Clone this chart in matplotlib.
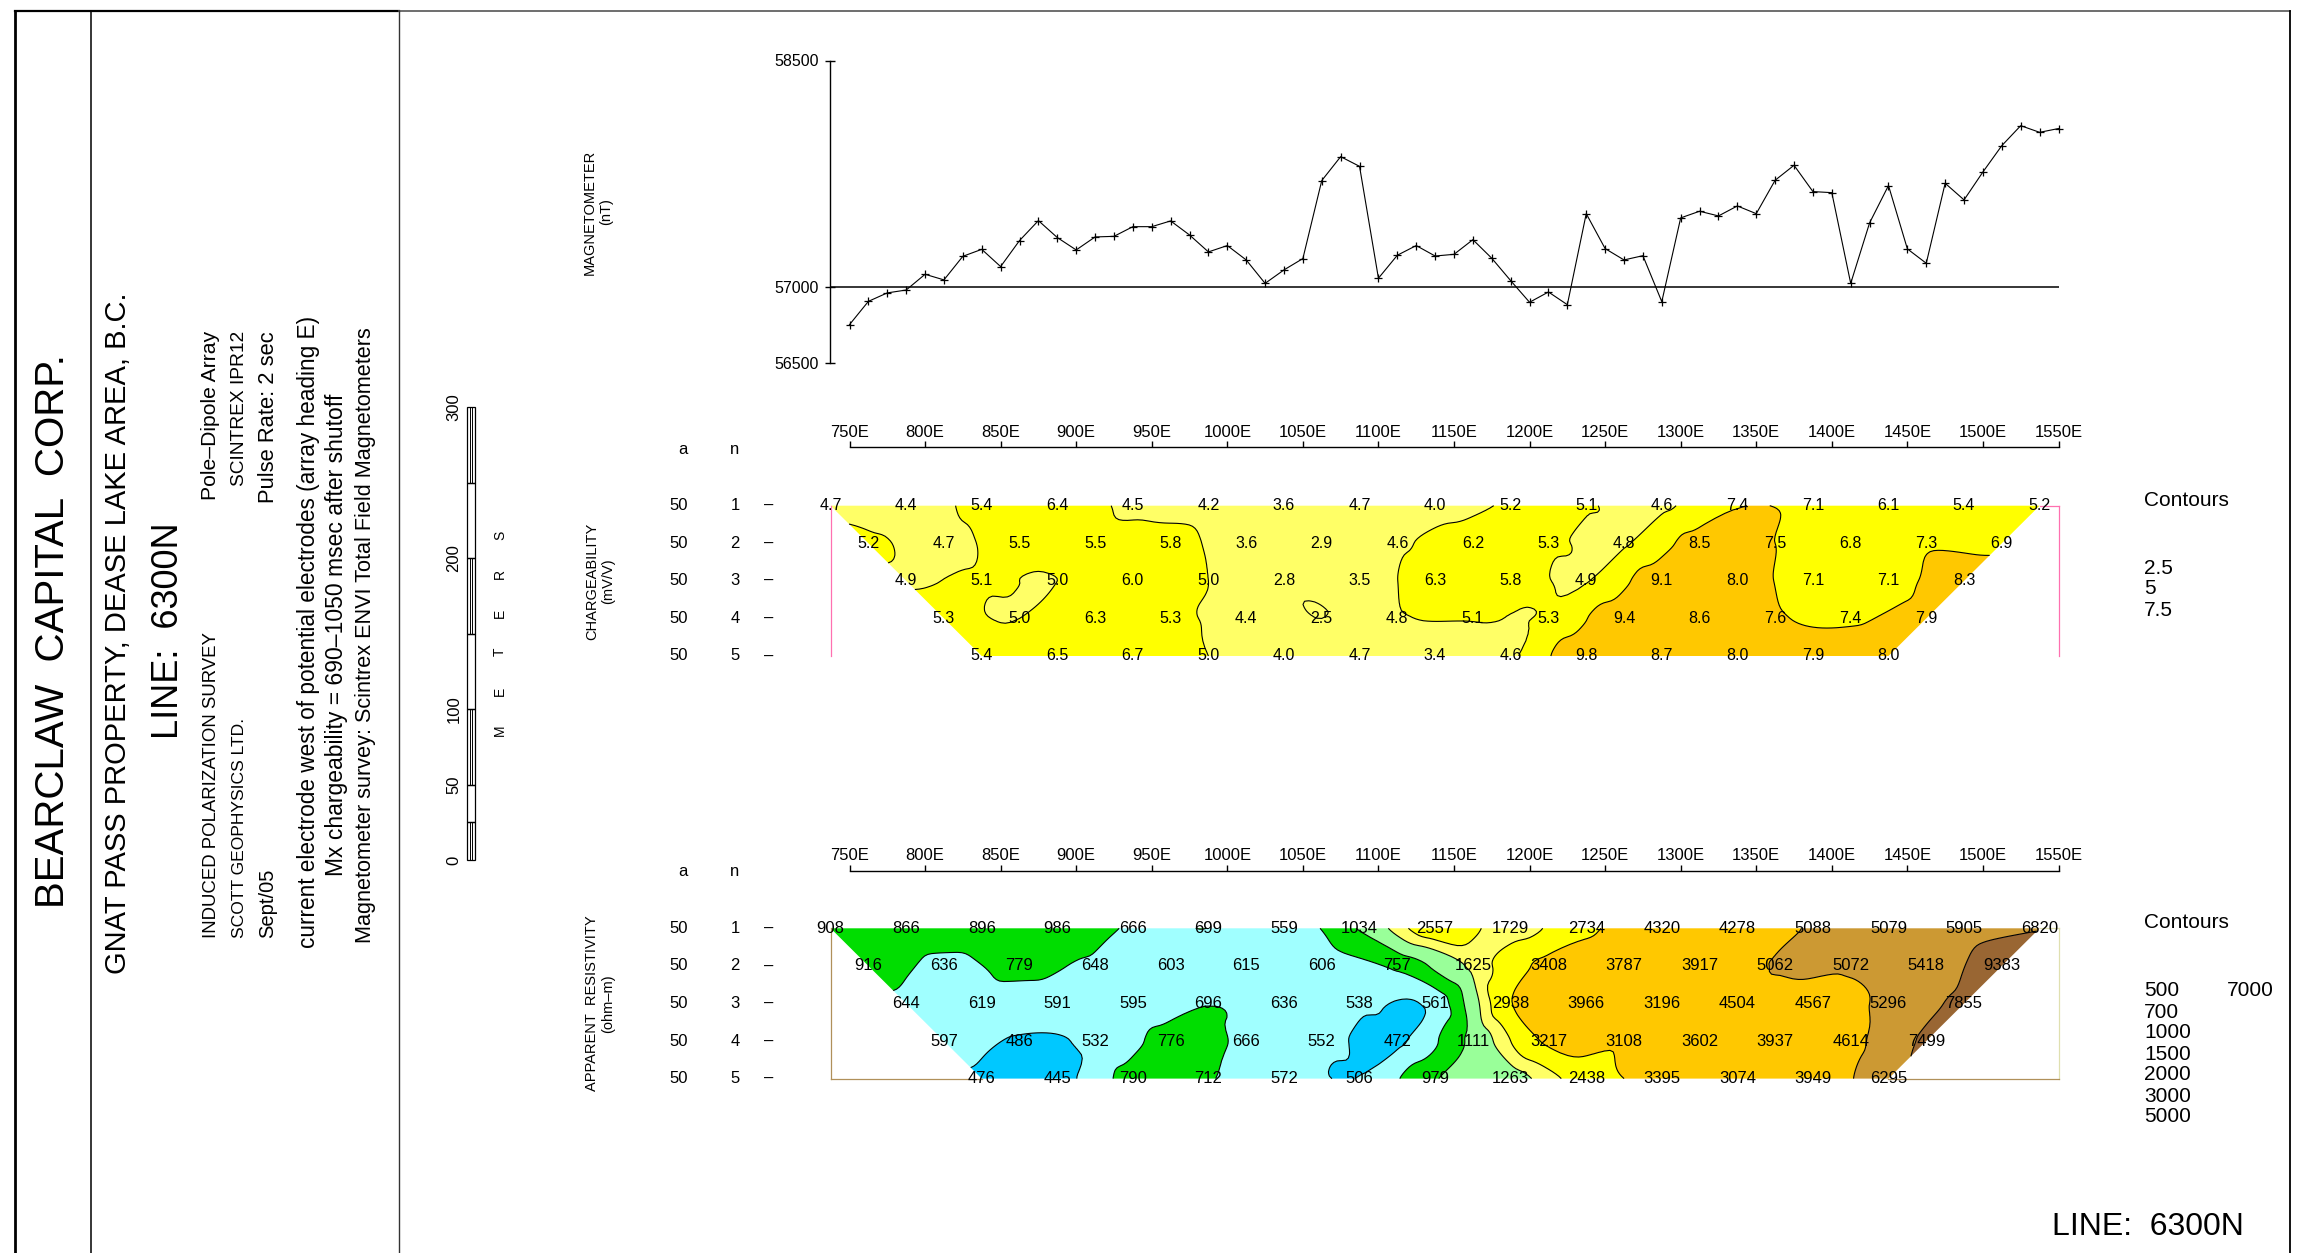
import numpy as np
import matplotlib
matplotlib.use('Agg')
import matplotlib.pyplot as plt
import matplotlib.tri as mtri
from matplotlib.patches import Rectangle
from matplotlib.transforms import blended_transform_factory

plt.rcParams['font.family'] = ['Liberation Sans', 'DejaVu Sans']

# ------------------------------------------------------------------ data
MAG_STATIONS = np.arange(750, 1550.1, 12.5)
MAG_NT = [56753, 56907, 56963, 56982, 57086, 57049, 57205, 57251, 57137, 57309,
          57441, 57329, 57247, 57333, 57337, 57401, 57401, 57439, 57346, 57234,
          57276, 57181, 57026, 57115, 57190, 57706, 57864, 57800, 57060, 57212,
          57276, 57207, 57218, 57315, 57192, 57044, 56901, 56969, 56885, 57487,
          57256, 57181, 57209, 56905, 57459, 57503, 57472, 57538, 57487, 57708,
          57807, 57633, 57626, 57026, 57426, 57673, 57254, 57159, 57688, 57578,
          57763, 57937, 58069, 58025, 58050]
MAG_TICKS = [56500, 57000, 58500]

# first plotted station of each n level (pole-dipole, a = 50 m), station spacing 50 m
N_LEVELS = [1, 2, 3, 4, 5]
A_SPACING = [50, 50, 50, 50, 50]
FIRST_STATION = [737.5, 762.5, 787.5, 812.5, 837.5]
STATION_STEP = 50
LINE_TICKS = list(range(750, 1551, 50))

CHG_N1 = [4.7, 4.4, 5.4, 6.4, 4.5, 4.2, 3.6, 4.7, 4.0, 5.2, 5.1, 4.6, 7.4, 7.1, 6.1, 5.4, 5.2]
CHG_N2 = [5.2, 4.7, 5.5, 5.5, 5.8, 3.6, 2.9, 4.6, 6.2, 5.3, 4.8, 8.5, 7.5, 6.8, 7.3, 6.9]
CHG_N3 = [4.9, 5.1, 5.0, 6.0, 5.0, 2.8, 3.5, 6.3, 5.8, 4.9, 9.1, 8.0, 7.1, 7.1, 8.3]
CHG_N4 = [5.3, 5.0, 6.3, 5.3, 4.4, 2.5, 4.8, 5.1, 5.3, 9.4, 8.6, 7.6, 7.4, 7.9]
CHG_N5 = [5.4, 6.5, 6.7, 5.0, 4.0, 4.7, 3.4, 4.6, 9.8, 8.7, 8.0, 7.9, 8.0]
CHG_CONTOURS = [2.5, 5, 7.5]

RES_N1 = [908, 866, 896, 986, 666, 699, 559, 1034, 2557, 1729, 2734, 4320, 4278, 5088, 5079, 5905, 6820]
RES_N2 = [916, 636, 779, 648, 603, 615, 606, 757, 1625, 3408, 3787, 3917, 5062, 5072, 5418, 9383]
RES_N3 = [644, 619, 591, 595, 696, 636, 538, 561, 2938, 3966, 3196, 4504, 4567, 5296, 7855]
RES_N4 = [597, 486, 532, 776, 666, 552, 472, 1111, 3217, 3108, 3602, 3937, 4614, 7499]
RES_N5 = [476, 445, 790, 712, 572, 506, 979, 1263, 2438, 3395, 3074, 3949, 6295]
RES_CONTOURS = [500, 700, 1000, 1500, 2000, 3000, 5000, 7000]

CHG_COLORS = ['#ffff66', '#ffff66', '#ffff00', '#ffc800']
RES_COLORS = ['#00c8ff', '#a0ffff', '#00dd00', '#99ff99', '#ffff66',
              '#ffff00', '#ffc800', '#cc9933', '#996633']

# ------------------------------------------------------------------ layout
W, H = 2310, 1253
PX_PER_M = 1.51125      # horizontal pixels per metre
X750_PX = 849.5         # pixel column of 750E
DEPTH_PX = 1.503        # vertical pixels per metre of pseudo-depth

fig = plt.figure(figsize=(W / 100, H / 100), dpi=100)


def px_axes(x0, y0, x1, y1):
    return fig.add_axes([x0 / W, 1 - y1 / H, (x1 - x0) / W, (y1 - y0) / H])


def e_px(e):
    return X750_PX + (e - 750) * PX_PER_M


ov = fig.add_axes([0, 0, 1, 1])
ov.set_xlim(0, W)
ov.set_ylim(H, 0)
ov.axis('off')
ov.patch.set_alpha(0)

# frame
ov.plot([15, 15], [10, H], color='k', lw=2.0, solid_capstyle='butt')
ov.plot([15, 399], [11, 11], color='k', lw=1.6)
ov.plot([399, 2290], [11, 11], color='#555555', lw=1.2)
ov.plot([91, 91], [11, H], color='k', lw=1.1)
ov.plot([399, 399], [11, H], color='#333333', lw=1.0)
ov.plot([2290, 2290], [11, H], color='k', lw=1.3)

# left title block
ov.text(53, 631, 'BEARCLAW  CAPITAL  CORP.', rotation=90, ha='center', va='center', fontsize=29)
ov.text(118, 633, 'GNAT PASS PROPERTY, DEASE LAKE AREA, B.C.', rotation=90,
        ha='center', va='center', fontsize=21)
ov.text(169, 631, 'LINE:  6300N', rotation=90, ha='center', va='center', fontsize=26)
ov.text(211, 938, 'INDUCED POLARIZATION SURVEY', rotation=90, ha='center', va='bottom',
        fontsize=13.4)
ov.text(239, 938, 'SCOTT GEOPHYSICS LTD.', rotation=90, ha='center', va='bottom',
        fontsize=12.6)
ov.text(268, 938, 'Sept/05', rotation=90, ha='center', va='bottom', fontsize=14.5)
ov.text(211, 331, 'Pole–Dipole Array', rotation=90, ha='center', va='top', fontsize=15.2)
ov.text(239, 331, 'SCINTREX IPR12', rotation=90, ha='center', va='top', fontsize=13.8)
ov.text(268, 331, 'Pulse Rate: 2 sec', rotation=90, ha='center', va='top', fontsize=15.8)
ov.text(309, 632, 'current electrode west of potential electrodes (array heading E)',
        rotation=90, ha='center', va='center', fontsize=16.3)
ov.text(337, 635, 'Mx chargeability = 690–1050 msec after shutoff',
        rotation=90, ha='center', va='center', fontsize=16.5)
ov.text(365, 635, 'Magnetometer survey: Scintrex ENVI Total Field Magnetometers',
        rotation=90, ha='center', va='center', fontsize=15.6)

# scale bar
SCALE_SEGMENTS = [(0, 25, True), (25, 50, False), (50, 100, True), (100, 150, False),
                  (150, 200, True), (200, 250, False), (250, 300, True)]
SCALE_LABELS = [0, 50, 100, 200, 300]
ax_s = px_axes(467, 407, 475, 860)
ax_s.set_xlim(0, 1)
ax_s.set_ylim(0, 300)
ax_s.axis('off')
ax_s.patch.set_alpha(0)
for y0, y1, hatched in SCALE_SEGMENTS:
    ax_s.add_patch(Rectangle((0, y0), 1, y1 - y0, fill=False, lw=0.9, ec='k', clip_on=False))
    if hatched:
        ax_s.vlines([1 / 3, 2 / 3], y0, y1, color='k', lw=0.7)
tr_s = blended_transform_factory(ov.transData, ax_s.transData)
for v in SCALE_LABELS:
    ov.text(454, v, str(v), transform=tr_s, rotation=90, ha='center', va='center', fontsize=12)
for i, ch in enumerate('METERS'):
    ov.text(500, 730 - 39 * i, ch, rotation=90, ha='center', va='center', fontsize=10)

# ------------------------------------------------------------------ magnetometer
mx0 = 829.6
ax_m = px_axes(mx0, 40, e_px(1562), 380)
xl0 = 750 + (mx0 - X750_PX) / PX_PER_M
ax_m.set_xlim(xl0, 1562)
ax_m.set_ylim(57000 - (380 - 287.3) / 0.1512, 57000 + (287.3 - 40) / 0.1512)
ax_m.patch.set_alpha(0)
ax_m.plot(MAG_STATIONS, MAG_NT, color='k', lw=0.8, marker='+', ms=6, mew=0.9)
ax_m.hlines(57000, xl0, MAG_STATIONS[-1], color='k', lw=1.1)
for s in ['top', 'right', 'bottom']:
    ax_m.spines[s].set_visible(False)
ax_m.spines['left'].set_bounds(MAG_TICKS[0], MAG_TICKS[-1])
ax_m.spines['left'].set_linewidth(1.0)
ax_m.set_xticks([])
ax_m.set_yticks(MAG_TICKS)
ax_m.set_yticklabels([str(t) for t in MAG_TICKS])
ax_m.tick_params(axis='y', direction='inout', length=7, width=1.0, labelsize=11.5, pad=4)
ov.text(598, 212, 'MAGNETOMETER\n(nT)', rotation=90, ha='center', va='center',
        fontsize=10.5, multialignment='center')


# ------------------------------------------------------------------ sections
def build_mesh(rows):
    xs, ds, vals, idx = [], [], [], []
    for i, row in enumerate(rows):
        ids = []
        for k, v in enumerate(row):
            ids.append(len(xs))
            xs.append(FIRST_STATION[i] + STATION_STEP * k)
            ds.append(N_LEVELS[i] * A_SPACING[i] / 2)
            vals.append(v)
        idx.append(ids)
    tris = []
    for i in range(len(rows) - 1):
        up, lo = idx[i], idx[i + 1]
        for k in range(len(up) - 1):
            tris.append([up[k], up[k + 1], lo[k]])
        for k in range(len(lo) - 1):
            tris.append([lo[k], lo[k + 1], up[k + 1]])
    return np.array(xs), np.array(ds), np.array(vals, float), np.array(tris)


def section(rows, row1_px, axis_px, bottom_px, levels, colors, log, fmt, fsize,
            label, edge_colors):
    e0, e1 = 725, 1562
    ax = px_axes(e_px(e0), axis_px, e_px(e1), bottom_px)
    d_top = 25 - (row1_px - axis_px) / DEPTH_PX
    d_bot = 125 + (bottom_px - (row1_px + 100 * DEPTH_PX)) / DEPTH_PX
    ax.set_xlim(e0, e1)
    ax.set_ylim(d_bot, d_top)
    ax.patch.set_alpha(0)

    xs, ds, vals, tris = build_mesh(rows)
    tri = mtri.Triangulation(xs, ds, tris)
    z = np.log10(vals) if log else vals
    lv = np.log10(levels) if log else np.array(levels, float)
    fill_levels = np.concatenate([[z.min() - 100.0], lv, [z.max() + 100.0]])
    interp = mtri.CubicTriInterpolator(tri, z, kind='geom')
    refiner = mtri.UniformTriRefiner(tri)
    tri_r, z_r = refiner.refine_field(z, triinterpolator=interp, subdiv=4)
    ax.tricontourf(tri_r, z_r, levels=fill_levels, colors=colors, antialiased=True)
    ax.tricontour(tri_r, z_r, levels=lv, colors='k', linewidths=0.8)

    for x, d, v in zip(xs, ds, vals):
        ax.text(x, d, fmt(v), ha='center', va='center', fontsize=fsize, zorder=5)

    # bounding frame of the grid
    xmin, xmax = xs.min(), LINE_TICKS[-1]
    dmin, dmax = ds.min(), ds.max()
    ax.plot([xmin, xmin], [dmin, dmax], color=edge_colors[0], lw=0.9)
    ax.plot([xmax, xmax], [dmin, dmax], color=edge_colors[1], lw=0.9)
    ax.plot([xs.max(), xmax], [dmin, dmin], color=edge_colors[1], lw=0.9)
    bottom_x = xs[ds == dmax]
    ax.plot([xmin, bottom_x.min()], [dmax, dmax], color=edge_colors[2], lw=0.9)
    ax.plot([bottom_x.max(), xmax], [dmax, dmax], color=edge_colors[2], lw=0.9)

    # line-chainage axis on top
    for s in ['left', 'right', 'bottom']:
        ax.spines[s].set_visible(False)
    ax.spines['top'].set_bounds(LINE_TICKS[0], LINE_TICKS[-1])
    ax.spines['top'].set_linewidth(1.0)
    ax.xaxis.tick_top()
    ax.set_xticks(LINE_TICKS)
    ax.set_xticklabels([f'{t}E' for t in LINE_TICKS])
    ax.tick_params(axis='x', top=True, bottom=False, direction='out', length=4,
                   width=1.0, labelsize=12, pad=1.5)
    ax.set_yticks([])

    # row annotations
    tr = blended_transform_factory(ov.transData, ax.transData)
    for i, n in enumerate(N_LEVELS):
        d = n * A_SPACING[i] / 2
        ov.text(679, d, str(A_SPACING[i]), transform=tr, ha='center', va='center', fontsize=12)
        ov.text(735, d, str(n), transform=tr, ha='center', va='center', fontsize=12)
        ov.text(769, d, '–', transform=tr, ha='center', va='center', fontsize=12)
    ov.text(683, row1_px - 56.5, 'a', ha='center', va='center', fontsize=12)
    ov.text(735, row1_px - 56.5, 'n', ha='center', va='center', fontsize=12)
    ov.text(600, row1_px + 2 * 37.6, label, rotation=90, ha='center', va='center',
            fontsize=10.5, multialignment='center')
    return ax


ax_c = section([CHG_N1, CHG_N2, CHG_N3, CHG_N4, CHG_N5], 505.7, 447.3, 690,
               CHG_CONTOURS, CHG_COLORS, False, lambda v: f'{v:.1f}', 11.5,
               'CHARGEABILITY\n(mV/V)', ['#ff70b0', '#ff70b0', 'none'])
ax_r = section([RES_N1, RES_N2, RES_N3, RES_N4, RES_N5], 928.3, 870.5, 1110,
               RES_CONTOURS, RES_COLORS, True, lambda v: f'{int(v)}', 12,
               'APPARENT  RESISTIVITY\n(ohm–m)', ['#b0905a', '#e0e0b0', '#b0905a'])

# contour legends
ov.text(2144, 500, 'Contours', ha='left', va='center', fontsize=15)
for i, c in enumerate(CHG_CONTOURS):
    ov.text(2144, 568 + 21 * i, f'{c:g}', ha='left', va='center', fontsize=15)
ov.text(2144, 922, 'Contours', ha='left', va='center', fontsize=15)
for i, c in enumerate(RES_CONTOURS[:-1]):
    ov.text(2144, 991 + 21 * i, str(c), ha='left', va='center', fontsize=15)
ov.text(2227, 991, str(RES_CONTOURS[-1]), ha='left', va='center', fontsize=15)

ov.text(2148, 1227, 'LINE:  6300N', ha='center', va='center', fontsize=23)

fig.savefig('out.png', dpi=100)
